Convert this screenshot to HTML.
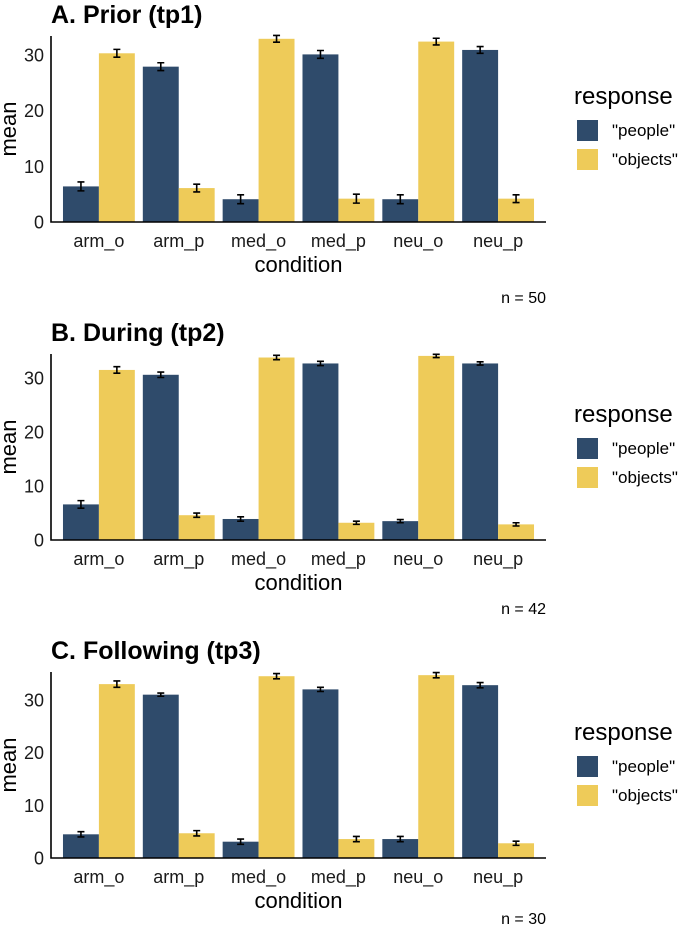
<!DOCTYPE html>
<html><head><meta charset="utf-8"><style>
body{margin:0;background:#fff;}
svg{display:block;font-family:"Liberation Sans",Arial,sans-serif;}
</style></head><body>
<svg id="chart" width="685" height="933" viewBox="0 0 685 933" xmlns="http://www.w3.org/2000/svg"></svg>
<script>
const categories = ["arm_o","arm_p","med_o","med_p","neu_o","neu_p"];
const titles = ["A. Prior (tp1)","B. During (tp2)","C. Following (tp3)"];
const nLabels = ["n = 50","n = 42","n = 30"];
const yTicks = [0,10,20,30];
const peopleA = [6.3,27.8,4.0,30.0,4.0,30.8];
const objectsA = [30.2,6.0,32.8,4.1,32.3,4.1];
const peopleErrA = [0.8,0.7,0.8,0.7,0.8,0.6];
const objectsErrA = [0.7,0.7,0.6,0.8,0.6,0.7];
const peopleB = [6.5,30.5,3.8,32.6,3.4,32.6];
const objectsB = [31.4,4.5,33.7,3.1,34.0,2.8];
const peopleErrB = [0.7,0.5,0.4,0.4,0.3,0.3];
const objectsErrB = [0.6,0.4,0.4,0.3,0.3,0.3];
const peopleC = [4.4,30.9,3.0,31.9,3.5,32.7];
const objectsC = [32.9,4.6,34.4,3.5,34.6,2.7];
const peopleErrC = [0.5,0.3,0.5,0.4,0.5,0.5];
const objectsErrC = [0.6,0.5,0.5,0.5,0.5,0.4];
const seriesNames = ['"people"','"objects"'];

const NS="http://www.w3.org/2000/svg";
const svg=document.getElementById('chart');
const colors=["#2f4b6b","#eecb59"];
const nY=[303,614,924];
function mk(tag,attrs,parent){const e=document.createElementNS(NS,tag);for(const k in attrs)e.setAttribute(k,attrs[k]);(parent||svg).appendChild(e);return e;}
function txt(s,attrs,parent){const e=mk('text',attrs,parent);e.textContent=s;return e;}

const panels=[
 {people:peopleA,objects:objectsA,pe:peopleErrA,oe:objectsErrA,unit:5.57},
 {people:peopleB,objects:objectsB,pe:peopleErrB,oe:objectsErrB,unit:5.4},
 {people:peopleC,objects:objectsC,pe:peopleErrC,oe:objectsErrC,unit:5.27}
];
const x0=51,x1=546;
const step=(x1-x0)/(categories.length+0.2);
function xCenter(i){return x0+step*(0.6+i);}
panels.forEach((p,pi)=>{
  const off=pi*318;
  const base=222+off;
  const g=mk('g',{});
  
  
  function y(v){return base-0.5-v*p.unit;}
  const t=txt(titles[pi],{x:51,y:23+off,'font-size':25,'font-weight':'bold',fill:'#000'},g);
  
  
  const bw=step*0.45;
  const series=[[p.people,p.pe],[p.objects,p.oe]];
  categories.forEach((c,i)=>{
    series.forEach((s,si)=>{
      const v=s[0][i],e=s[1][i];
      const bx=xCenter(i)-bw+si*bw;
      const r=mk('rect',{x:bx,y:y(v),width:bw,height:base-y(v),fill:colors[si]},g);
      
      
      const cx=bx+bw/2;
      const eb=mk('path',{d:`M${cx-3.5},${y(v+e)}H${cx+3.5}M${cx},${y(v+e)}V${y(v-e)}M${cx-3.5},${y(v-e)}H${cx+3.5}`,stroke:'#000','stroke-width':1.6,fill:'none'},g);
      
      
    });
    const xl=txt(c,{x:xCenter(i),y:base+25,'font-size':18,'text-anchor':'middle',fill:'#1a1a1a'},g);
    
    
  });
  const ax=mk('path',{d:`M${x0},${36+off}V${base}H${x1}`,stroke:'#000','stroke-width':1.6,fill:'none'},g);
  
  
  yTicks.forEach(tv=>{
    const yl=txt(String(tv),{x:44,y:y(tv)+7,'font-size':18,'text-anchor':'end',fill:'#1a1a1a'},g);
    
    
  });
  const xt=txt('condition',{x:(x0+x1)/2,y:base+50,'font-size':22,'text-anchor':'middle',fill:'#000'},g);
  
  
  const yt=txt('mean',{x:0,y:0,'font-size':22,'text-anchor':'middle',fill:'#000'},g);
  yt.setAttribute('transform',`translate(16,${(36+off+base)/2}) rotate(-90)`);
  
  
  const nl=txt(nLabels[pi],{x:546,y:nY[pi],'font-size':16,'text-anchor':'end',fill:'#000'},g);
  
  
  const lg=mk('g',{},g);
  
  
  const lt=txt('response',{x:574,y:104+off,'font-size':24,fill:'#000'},lg);
  
  
  seriesNames.forEach((sn,si)=>{
    const ky=120+off+si*29;
    const k=mk('rect',{x:577,y:ky,width:21,height:21,fill:colors[si]},lg);
    
    
    const kl=txt(sn,{x:612,y:ky+16,'font-size':17,fill:'#000'},lg);
    
    
  });
});
</script>
</body></html>
